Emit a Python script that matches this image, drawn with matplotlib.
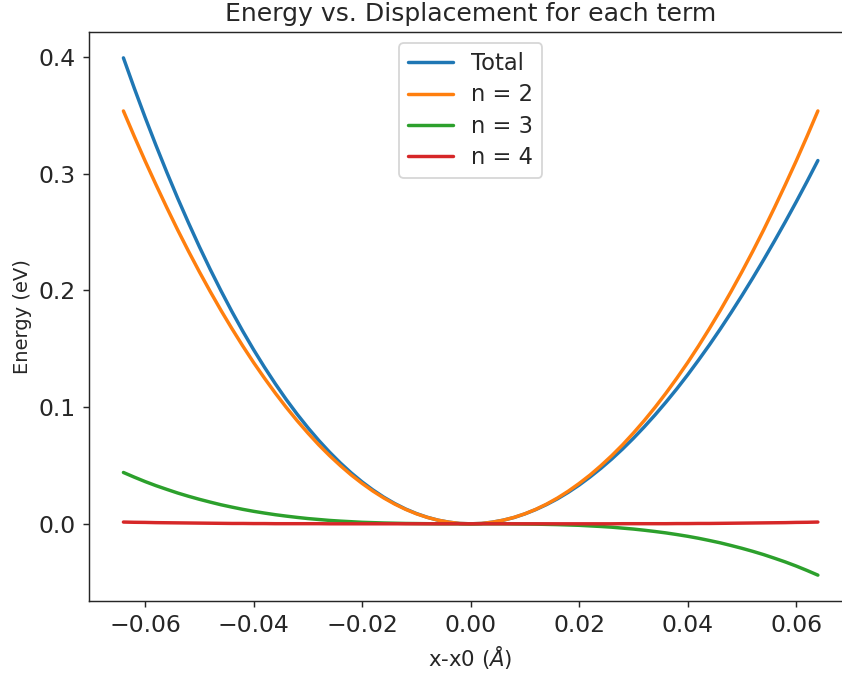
import matplotlib
matplotlib.use('Agg')
import matplotlib.pyplot as plt
import seaborn as sns

sns.set_style('ticks')
plt.rcParams['font.family'] = ['DejaVu Sans']

# displacement grid (Angstrom)
disp = [-0.064, -0.062, -0.060, -0.058, -0.056, -0.054, -0.052, -0.050,
        -0.048, -0.046, -0.044, -0.042, -0.040, -0.038, -0.036, -0.034,
        -0.032, -0.030, -0.028, -0.026, -0.024, -0.022, -0.020, -0.018,
        -0.016, -0.014, -0.012, -0.010, -0.008, -0.006, -0.004, -0.002,
        0.000,
        0.002, 0.004, 0.006, 0.008, 0.010, 0.012, 0.014, 0.016,
        0.018, 0.020, 0.022, 0.024, 0.026, 0.028, 0.030, 0.032,
        0.034, 0.036, 0.038, 0.040, 0.042, 0.044, 0.046, 0.048,
        0.050, 0.052, 0.054, 0.056, 0.058, 0.060, 0.062, 0.064]

# energy contributions (eV)
e_total = [0.3994, 0.3734, 0.3484, 0.3244, 0.3013, 0.2791, 0.2579, 0.2375,
           0.2181, 0.1996, 0.1819, 0.1651, 0.1492, 0.1342, 0.1200, 0.1066,
           0.0941, 0.0824, 0.0715, 0.0614, 0.0521, 0.0436, 0.0359, 0.0290,
           0.0228, 0.0174, 0.0127, 0.0088, 0.0056, 0.0031, 0.0014, 0.0003,
           0.0000,
           0.0003, 0.0014, 0.0031, 0.0054, 0.0085, 0.0122, 0.0165, 0.0214,
           0.0270, 0.0332, 0.0401, 0.0475, 0.0555, 0.0641, 0.0733, 0.0831,
           0.0934, 0.1043, 0.1157, 0.1277, 0.1403, 0.1533, 0.1669, 0.1810,
           0.1956, 0.2107, 0.2263, 0.2424, 0.2589, 0.2759, 0.2934, 0.3114]
e_n2 = [0.3539, 0.3321, 0.3110, 0.2907, 0.2710, 0.2519, 0.2336, 0.2160,
        0.1991, 0.1828, 0.1673, 0.1524, 0.1382, 0.1248, 0.1120, 0.0999,
        0.0885, 0.0778, 0.0677, 0.0584, 0.0498, 0.0418, 0.0346, 0.0280,
        0.0221, 0.0169, 0.0124, 0.0086, 0.0055, 0.0031, 0.0014, 0.0003,
        0.0000,
        0.0003, 0.0014, 0.0031, 0.0055, 0.0086, 0.0124, 0.0169, 0.0221,
        0.0280, 0.0346, 0.0418, 0.0498, 0.0584, 0.0677, 0.0778, 0.0885,
        0.0999, 0.1120, 0.1248, 0.1382, 0.1524, 0.1673, 0.1828, 0.1991,
        0.2160, 0.2336, 0.2519, 0.2710, 0.2907, 0.3110, 0.3321, 0.3539]
e_n3 = [0.0440, 0.0400, 0.0362, 0.0327, 0.0295, 0.0264, 0.0236, 0.0210,
        0.0186, 0.0163, 0.0143, 0.0124, 0.0107, 0.0092, 0.0078, 0.0066,
        0.0055, 0.0045, 0.0037, 0.0029, 0.0023, 0.0018, 0.0013, 0.0010,
        0.0007, 0.0005, 0.0003, 0.0002, 0.0001, 0.0000, 0.0000, 0.0000,
        0.0000,
        -0.0000, -0.0000, -0.0000, -0.0001, -0.0002, -0.0003, -0.0005, -0.0007,
        -0.0010, -0.0013, -0.0018, -0.0023, -0.0029, -0.0037, -0.0045, -0.0055,
        -0.0066, -0.0078, -0.0092, -0.0107, -0.0124, -0.0143, -0.0163, -0.0186,
        -0.0210, -0.0236, -0.0264, -0.0295, -0.0327, -0.0362, -0.0400, -0.0440]
e_n4 = [0.0015, 0.0013, 0.0012, 0.0010, 0.0009, 0.0008, 0.0007, 0.0006,
        0.0005, 0.0004, 0.0003, 0.0003, 0.0002, 0.0002, 0.0001, 0.0001,
        0.0001, 0.0001, 0.0001, 0.0000, 0.0000, 0.0000, 0.0000, 0.0000,
        0.0000, 0.0000, 0.0000, 0.0000, 0.0000, 0.0000, 0.0000, 0.0000,
        0.0000,
        0.0000, 0.0000, 0.0000, 0.0000, 0.0000, 0.0000, 0.0000, 0.0000,
        0.0000, 0.0000, 0.0000, 0.0000, 0.0000, 0.0001, 0.0001, 0.0001,
        0.0001, 0.0001, 0.0002, 0.0002, 0.0003, 0.0003, 0.0004, 0.0005,
        0.0006, 0.0007, 0.0008, 0.0009, 0.0010, 0.0012, 0.0013, 0.0015]

fig = plt.figure(figsize=(842 / 130, 678 / 130), dpi=130)
ax = fig.add_axes([88.7 / 842, 1 - 601 / 678, (852.6 - 88.7) / 842, (601 - 32) / 678])

lw = 1.9
ax.plot(disp, e_total, label='Total', lw=lw)
ax.plot(disp, e_n2, label='n = 2', lw=lw)
ax.plot(disp, e_n3, label='n = 3', lw=lw)
ax.plot(disp, e_n4, label='n = 4', lw=lw)

ax.tick_params(labelsize=13)
ax.set_title('Energy vs. Displacement for each term', fontsize=13.9)
ax.set_xlabel(r'x-x0 ($\AA$)', fontsize=11.8)
ax.set_ylabel('Energy (eV)', fontsize=10.8)
ax.legend(loc='upper center', fontsize=12.5, labelspacing=0.36)

fig.savefig('out.png', dpi=130)
